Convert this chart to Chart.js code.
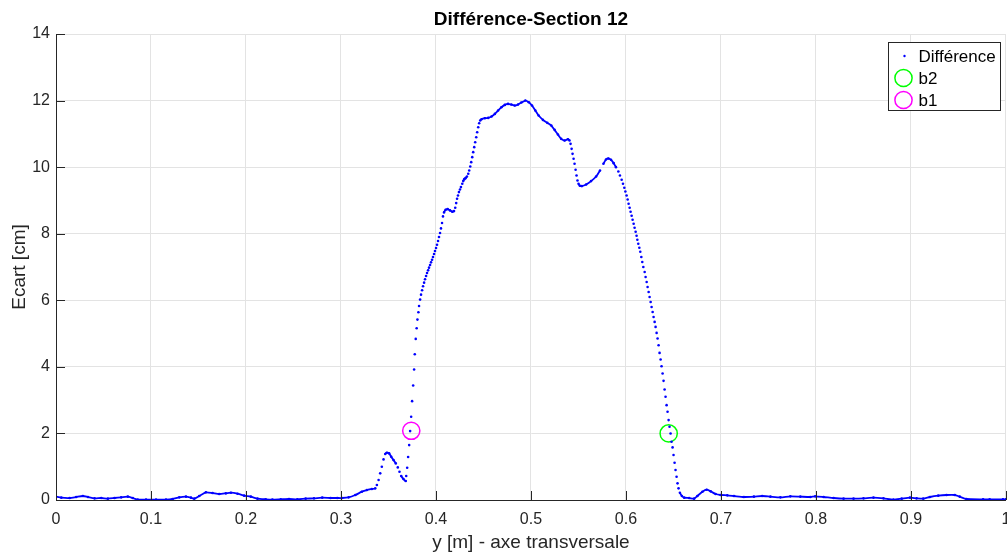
<!DOCTYPE html>
<html>
<head>
<meta charset="utf-8">
<script src="https://cdn.jsdelivr.net/npm/chart.js@4/dist/chart.umd.min.js"></script>
<style>
  html, body { margin: 0; padding: 0; overflow: hidden; background: #fff; }
  #wrap { position: absolute; left: 0; top: 0; width: 1016px; height: 553px; }
</style>
</head>
<body>
<div id="wrap"><canvas id="aChart" width="1016" height="553"></canvas></div>
<script>
// y [m] positions of the "Différence" samples
let diffX = [
  0.0000, 0.0056, 0.0144, 0.0213, 0.0283, 0.0336, 0.0406, 0.0476, 0.0546, 0.0616,
  0.0686, 0.0756, 0.0808, 0.0860, 0.0948, 0.1053, 0.1158, 0.1228, 0.1298, 0.1368,
  0.1421, 0.1456, 0.1508, 0.1578, 0.1648, 0.1718, 0.1788, 0.1841, 0.1911, 0.1981,
  0.2051, 0.2121, 0.2208, 0.2278, 0.2366, 0.2453, 0.2541, 0.2628, 0.2716, 0.2803,
  0.2891, 0.2961, 0.3011, 0.3081, 0.3151, 0.3220, 0.3273, 0.3325, 0.3361, 0.3378,
  0.3396, 0.3413, 0.3430, 0.3448, 0.3466, 0.3483, 0.3507, 0.3529, 0.3553, 0.3577,
  0.3598, 0.3616, 0.3634, 0.3658, 0.3682, 0.3687, 0.3697, 0.3707, 0.3718, 0.3728,
  0.3739, 0.3749, 0.3760, 0.3770, 0.3777, 0.3787, 0.3797, 0.3805, 0.3815, 0.3822,
  0.3833, 0.3843, 0.3854, 0.3864, 0.3875, 0.3885, 0.3896, 0.3906, 0.3917, 0.3927,
  0.3938, 0.3948, 0.3959, 0.3969, 0.3980, 0.3990, 0.4001, 0.4011, 0.4022, 0.4032,
  0.4043, 0.4053, 0.4064, 0.4074, 0.4085, 0.4102, 0.4123, 0.4148, 0.4172, 0.4190,
  0.4203, 0.4213, 0.4222, 0.4232, 0.4242, 0.4253, 0.4263, 0.4277, 0.4287, 0.4298,
  0.4311, 0.4326, 0.4340, 0.4350, 0.4361, 0.4371, 0.4382, 0.4392, 0.4403, 0.4413,
  0.4424, 0.4434, 0.4445, 0.4455, 0.4466, 0.4479, 0.4515, 0.4550, 0.4585, 0.4620,
  0.4654, 0.4689, 0.4725, 0.4759, 0.4794, 0.4829, 0.4864, 0.4899, 0.4941, 0.4977,
  0.5011, 0.5046, 0.5081, 0.5126, 0.5172, 0.5214, 0.5249, 0.5284, 0.5318, 0.5354,
  0.5389, 0.5406, 0.5417, 0.5428, 0.5438, 0.5449, 0.5459, 0.5470, 0.5480, 0.5490,
  0.5501, 0.5515, 0.5536, 0.5581, 0.5633, 0.5686, 0.5727, 0.5763, 0.5790, 0.5815,
  0.5843, 0.5871, 0.5895, 0.5920, 0.5937, 0.5955, 0.5969, 0.5983, 0.5994, 0.6007,
  0.6018, 0.6028, 0.6039, 0.6049, 0.6060, 0.6070, 0.6081, 0.6091, 0.6102, 0.6112,
  0.6120, 0.6130, 0.6141, 0.6151, 0.6162, 0.6172, 0.6183, 0.6197, 0.6207, 0.6218,
  0.6228, 0.6239, 0.6249, 0.6260, 0.6270, 0.6281, 0.6291, 0.6302, 0.6312, 0.6323,
  0.6333, 0.6344, 0.6354, 0.6365, 0.6375, 0.6386, 0.6396, 0.6407, 0.6417, 0.6428,
  0.6438, 0.6449, 0.6459, 0.6470, 0.6480, 0.6491, 0.6501, 0.6512, 0.6522, 0.6533,
  0.6543, 0.6554, 0.6568, 0.6589, 0.6613, 0.6665, 0.6718, 0.6752, 0.6805, 0.6850,
  0.6892, 0.6944, 0.6997, 0.7067, 0.7137, 0.7242, 0.7347, 0.7434, 0.7521, 0.7626,
  0.7731, 0.7836, 0.7941, 0.7993, 0.8081, 0.8186, 0.8291, 0.8396, 0.8501, 0.8606,
  0.8711, 0.8816, 0.8903, 0.8990, 0.9060, 0.9130, 0.9200, 0.9288, 0.9375, 0.9462,
  0.9514, 0.9584, 0.9760, 0.9829, 0.9969, 1.0000
];
// Ecart [cm] for the same samples
let diffY = [
  0.10, 0.07, 0.06, 0.09, 0.12, 0.09, 0.05, 0.06, 0.04, 0.06,
  0.08, 0.10, 0.06, 0.01, 0.01, 0.01, 0.01, 0.03, 0.08, 0.10,
  0.07, 0.04, 0.12, 0.23, 0.21, 0.18, 0.20, 0.22, 0.19, 0.13,
  0.10, 0.04, 0.02, 0.01, 0.02, 0.03, 0.02, 0.04, 0.05, 0.07,
  0.06, 0.06, 0.06, 0.08, 0.15, 0.25, 0.30, 0.33, 0.35, 0.45,
  0.60, 0.80, 1.00, 1.22, 1.38, 1.42, 1.40, 1.30, 1.20, 1.10,
  0.98, 0.85, 0.72, 0.63, 0.57, 0.72, 0.97, 1.29, 1.65, 2.07,
  2.50, 2.97, 3.44, 3.92, 4.38, 4.84, 5.16, 5.42, 5.64, 5.83,
  6.02, 6.17, 6.30, 6.42, 6.53, 6.63, 6.73, 6.82, 6.90, 6.98,
  7.06, 7.14, 7.22, 7.30, 7.39, 7.48, 7.57, 7.67, 7.78, 7.90,
  8.02, 8.16, 8.32, 8.52, 8.64, 8.72, 8.74, 8.70, 8.66, 8.68,
  8.78, 8.92, 9.05, 9.15, 9.25, 9.33, 9.40, 9.50, 9.58, 9.64,
  9.67, 9.72, 9.80, 9.90, 10.02, 10.15, 10.30, 10.45, 10.60, 10.75,
  10.90, 11.05, 11.20, 11.32, 11.40, 11.44, 11.47, 11.48, 11.52, 11.60,
  11.70, 11.80, 11.87, 11.90, 11.88, 11.85, 11.88, 11.94, 12.00, 11.95,
  11.85, 11.70, 11.55, 11.42, 11.33, 11.25, 11.12, 10.98, 10.85, 10.80,
  10.84, 10.80, 10.70, 10.55, 10.40, 10.25, 10.10, 9.92, 9.75, 9.60,
  9.50, 9.44, 9.43, 9.48, 9.58, 9.72, 9.90, 10.10, 10.23, 10.26,
  10.22, 10.12, 10.00, 9.87, 9.75, 9.62, 9.50, 9.38, 9.27, 9.15,
  9.03, 8.90, 8.78, 8.66, 8.54, 8.42, 8.30, 8.18, 8.06, 7.94,
  7.82, 7.70, 7.58, 7.46, 7.30, 7.15, 7.00, 6.85, 6.70, 6.55,
  6.40, 6.25, 6.10, 5.95, 5.80, 5.65, 5.50, 5.35, 5.20, 5.02,
  4.85, 4.65, 4.42, 4.22, 4.02, 3.80, 3.58, 3.32, 3.10, 2.85,
  2.65, 2.40, 2.20, 2.00, 1.75, 1.58, 1.35, 1.12, 0.90, 0.70,
  0.50, 0.35, 0.22, 0.12, 0.07, 0.06, 0.04, 0.12, 0.25, 0.31,
  0.26, 0.18, 0.15, 0.14, 0.12, 0.09, 0.10, 0.12, 0.10, 0.08,
  0.11, 0.10, 0.09, 0.11, 0.09, 0.06, 0.04, 0.04, 0.05, 0.07,
  0.05, 0.01, 0.04, 0.07, 0.05, 0.04, 0.09, 0.13, 0.15, 0.15,
  0.10, 0.03, 0.02, 0.02, 0.02, 0.02
];
// the two marked points
let b2 = [{ x: 0.6450, y: 2.00 }];
let b1 = [{ x: 0.3740, y: 2.08 }];
let xTicks = [0, 0.1, 0.2, 0.3, 0.4, 0.5, 0.6, 0.7, 0.8, 0.9, 1];
let yTicks = [0, 2, 4, 6, 8, 10, 12, 14];

const ink = "#262626";
const font = "'Liberation Sans', Arial, Helvetica, sans-serif";

// steep stretches show as separate dots, flat ones merge into a line
let hideSteep = c => {
  let dx = Math.abs(c.p1.x - c.p0.x), dy = Math.abs(c.p1.y - c.p0.y);
  return (dy > 1.8 * dx && dy > 2) ? "rgba(0,0,0,0)" : "#0000ff";
};

// MATLAB style ticks pointing into the axes
let innerTicks = {
  id: "innerTicks",
  afterDatasetsDraw(chart) {
    let { ctx, chartArea, scales } = chart;
    ctx.save();
    ctx.strokeStyle = ink;
    ctx.lineWidth = 1;
    ctx.beginPath();
    xTicks.forEach(v => {
      let px = Math.round(scales.x.getPixelForValue(v)) + 0.5;
      ctx.moveTo(px, chartArea.bottom);
      ctx.lineTo(px, chartArea.bottom - 9);
    });
    yTicks.forEach(v => {
      let py = Math.round(scales.y.getPixelForValue(v)) + 0.5;
      ctx.moveTo(chartArea.left, py);
      ctx.lineTo(chartArea.left + 9, py);
    });
    ctx.stroke();
    ctx.restore();
  }
};

// boxed legend in the upper right corner
let boxLegend = {
  id: "boxLegend",
  afterDraw(chart) {
    let ctx = chart.ctx;
    let x0 = 888.5, y0 = 42.5, w = 112, h = 68;
    ctx.save();
    ctx.fillStyle = "#fff";
    ctx.fillRect(x0, y0, w, h);
    ctx.strokeStyle = ink;
    ctx.lineWidth = 1;
    ctx.strokeRect(x0, y0, w, h);
    ctx.font = "17px " + font;
    ctx.textBaseline = "middle";
    chart.data.datasets.forEach((ds, i) => {
      let cy = 56 + i * 22;
      if (i === 0) {
        ctx.fillStyle = ds.pointBackgroundColor;
        ctx.beginPath();
        ctx.arc(904.5, cy, 1.2, 0, Math.PI * 2);
        ctx.fill();
      } else {
        ctx.strokeStyle = ds.pointBorderColor;
        ctx.lineWidth = 1.5;
        ctx.beginPath();
        ctx.arc(903.5, cy, 8.6, 0, Math.PI * 2);
        ctx.stroke();
      }
      ctx.fillStyle = "#000";
      ctx.fillText(ds.label, 918.5, cy + 1);
    });
    ctx.restore();
  }
};

let aChart = new Chart(document.getElementById("aChart"), {
  type: "scatter",
  data: {
    datasets: [
      {
        label: "Différence",
        data: diffX.map((x, i) => ({ x: x, y: diffY[i] })),
        showLine: true,
        borderWidth: 1.8,
        borderColor: "#0000ff",
        tension: 0.2,
        segment: { borderColor: hideSteep },
        pointRadius: 1.3,
        pointBorderWidth: 0,
        pointBackgroundColor: "#0000ff",
        pointBorderColor: "#0000ff",
      },
      {
        label: "b2",
        data: b2,
        pointRadius: 8.6,
        pointBorderWidth: 1.5,
        pointBorderColor: "#00ff00",
        pointBackgroundColor: "rgba(0,0,0,0)",
      },
      {
        label: "b1",
        data: b1,
        pointRadius: 8.6,
        pointBorderWidth: 1.5,
        pointBorderColor: "#ff00ff",
        pointBackgroundColor: "rgba(0,0,0,0)",
      },
    ],
  },
  options: {
    responsive: false,
    animation: false,
    events: [],
    layout: { padding: { left: 0, right: 7, top: 0, bottom: 0 } },
    plugins: {
      legend: { display: false },
      tooltip: { enabled: false },
      title: {
        display: true,
        fullSize: false,
        text: "Différence-Section 12",
        color: "#000",
        font: { family: font, size: 19, weight: "bold" },
        padding: { top: 8, bottom: 3.2 },
      },
    },
    scales: {
      x: {
        type: "linear",
        min: 0,
        max: 1,
        afterFit: s => { s.height = 53; s.paddingLeft = 0; s.paddingRight = 0; },
        afterBuildTicks: s => { s.ticks = xTicks.map(v => ({ value: v })); },
        ticks: {
          color: ink,
          padding: 10,
          maxRotation: 0,
          autoSkip: false,
          font: { family: font, size: 16 },
          callback: v => String(+v.toFixed(1)),
        },
        grid: { color: "#e3e3e3", lineWidth: 1, drawTicks: false },
        border: { display: true, color: ink, width: 1 },
        title: {
          display: true,
          text: "y [m] - axe transversale",
          color: ink,
          font: { family: font, size: 19 },
          padding: { top: 0, bottom: -1 },
        },
      },
      y: {
        min: 0,
        max: 14,
        afterFit: s => { s.width = 56; s.paddingTop = 0; s.paddingBottom = 0; },
        afterBuildTicks: s => { s.ticks = yTicks.map(v => ({ value: v })); },
        ticks: {
          color: ink,
          padding: 6,
          font: { family: font, size: 16 },
        },
        grid: { color: "#e3e3e3", lineWidth: 1, drawTicks: false },
        border: { display: true, color: ink, width: 1 },
        title: {
          display: true,
          text: "Ecart [cm]",
          color: ink,
          font: { family: font, size: 19 },
          padding: { top: 8.5, bottom: 0 },
        },
      },
    },
  },
  plugins: [innerTicks, boxLegend],
});
</script>
</body>
</html>
